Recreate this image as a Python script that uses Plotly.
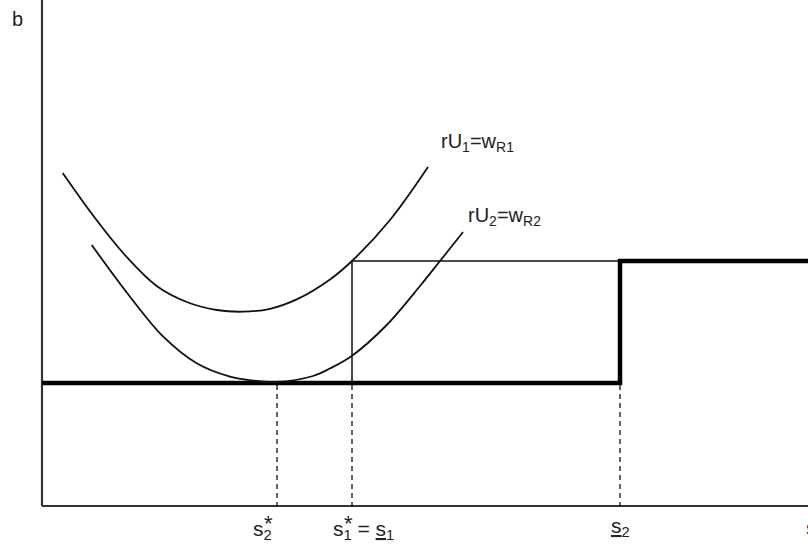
import plotly.graph_objects as go

# ---- data (chart units: horizontal = s, vertical = b) ----
s_star2 = 235      # s2*
s_1 = 310          # s1* = s1
s_2 = 578          # s2
s_max = 766        # end of s axis
b_max = 506        # top of b axis
w_low = 123        # lower wage level
w_high = 245       # upper wage level

# rU1 = wR1 curve, traced
c1_s = [20.7, 53, 84.7, 114.7, 144.7, 174.7, 201, 228, 254.7, 288, 310, 348, 386]
c1_b = [333, 288, 249, 220, 204, 196, 194.3, 197.2, 206.6, 226.6, 245, 286, 339]
# rU2 = wR2 curve, traced
c2_s = [49.7, 88, 121.3, 154.7, 188, 210, 234.7, 271, 288, 309.7, 344.7, 378, 398, 416.3, 421]
c2_b = [261, 209.3, 169.3, 142.7, 129.3, 125.5, 124, 130, 137.5, 150, 181, 220, 245, 268, 274]

FONT = "Liberation Sans, Arial, Helvetica, sans-serif"
INK = "#111111"

fig = go.Figure()

def line(x, y, width, color=INK, dash="solid", shape="linear"):
    fig.add_trace(go.Scatter(x=x, y=y, mode="lines", line=dict(color=color, width=width, dash=dash, shape=shape),
                             hoverinfo="skip", showlegend=False))

# axes
line([0, 0], [0, b_max], 2.2, color="#333333")
line([0, s_max], [0, 0], 2.2, color="#333333")

# thin rectangle
line([s_1, s_1, s_2], [w_low, w_high, w_high], 1.5)

# bold step
line([0, s_2, s_2, s_max], [w_low, w_low, w_high, w_high], 4.5, color="#000000")

# dashed drops
for xv in [s_star2, s_1, s_2]:
    line([xv, xv], [-1, w_low], 1.3, dash="5px,4px")

# curves
line(c1_s, c1_b, 1.8, shape="spline")
line(c2_s, c2_b, 1.8, shape="spline")

def ann(x, y, text, size=18, xanchor="center"):
    fig.add_annotation(x=x, y=y, text=text, showarrow=False, xanchor=xanchor, yanchor="middle",
                       font=dict(family=FONT, size=size, color="#222222"))

ann(-25, 487, "b", 20)
ann(435, 364, "rU<sub>1</sub>=w<sub>R1</sub>", 20)
ann(462, 290, "rU<sub>2</sub>=w<sub>R2</sub>", 20)

ann(220, -24, "s<sub>2</sub>", 21)
ann(226.5, -17, "*", 22)
ann(321, -24, "s<sub>1</sub> = <u>s</u><sub>1</sub>", 21)
ann(306, -17, "*", 22)
ann(578, -21, "<u>s</u><sub>2</sub>", 21)
ann(762, -21, "s", 21, xanchor="left")

fig.update_layout(
    width=808, height=547,
    margin=dict(l=0, r=0, t=0, b=0),
    paper_bgcolor="white", plot_bgcolor="white",
    xaxis=dict(range=[-42, 766], visible=False, fixedrange=True),
    yaxis=dict(range=[-41, 506], visible=False, fixedrange=True),
    showlegend=False,
)

fig.write_html("out.html")
